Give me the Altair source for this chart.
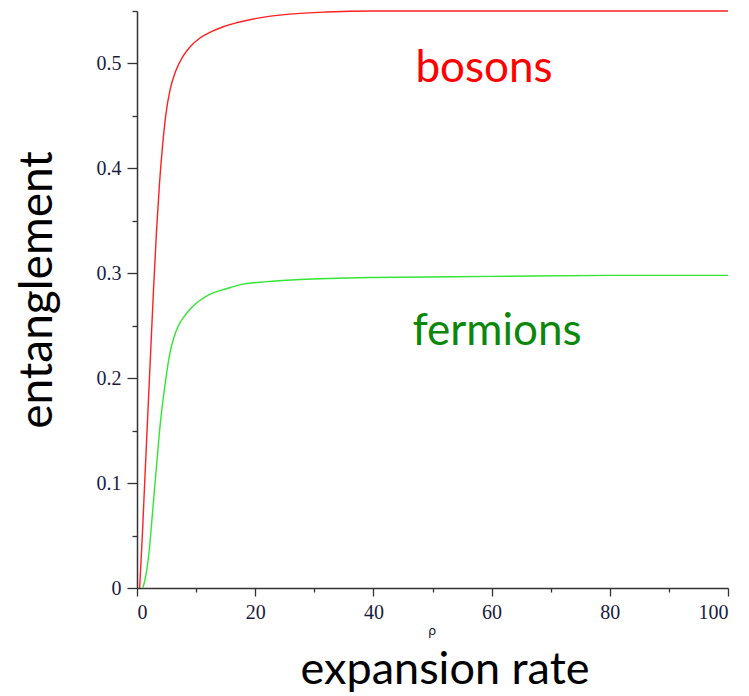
import altair as alt
import pandas as pd

# ---- data ----
rho_bosons = [0.45, 0.9, 1.3, 1.7, 2.1, 2.8, 3.3, 3.8, 4.3, 4.9, 5.6, 6.5, 7.8, 9.0, 10.6, 12.5, 14.6, 17.0, 20.2, 25.9, 32.0, 40.0, 60.0, 80.0, 100.0]
ent_bosons = [0.0, 0.05, 0.10, 0.15, 0.199, 0.285, 0.34, 0.385, 0.42, 0.452, 0.475, 0.492, 0.507, 0.516, 0.524, 0.530, 0.535, 0.539, 0.543, 0.547, 0.549, 0.55, 0.55, 0.55, 0.55]

rho_fermions = [1.0, 1.5, 2.0, 2.6, 3.3, 4.0, 4.8, 5.5, 6.2, 7.0, 8.0, 9.0, 10.6, 12.3, 15.0, 17.4, 22.0, 27.6, 40.0, 60.0, 80.0, 100.0]
ent_fermions = [0.0, 0.012, 0.032, 0.070, 0.116, 0.160, 0.196, 0.222, 0.238, 0.250, 0.259, 0.266, 0.274, 0.280, 0.285, 0.289, 0.292, 0.294, 0.296, 0.297, 0.298, 0.298]

series_names = ["bosons", "fermions"]
line_colors = ["#ff2020", "#33e633"]
label_colors = ["#ff0000", "#0b870b"]

x_major = [0, 20, 40, 60, 80, 100]
x_minor = [10, 30, 50, 70, 90]
y_major = [0, 0.1, 0.2, 0.3, 0.4, 0.5]
y_minor = [0.05, 0.15, 0.25, 0.35, 0.45, 0.55]

y_title = "entanglement"
x_title = "expansion rate"
x_symbol = "ρ"

df = pd.concat([
    pd.DataFrame({"rho": rho_bosons, "ent": ent_bosons, "series": series_names[0]}),
    pd.DataFrame({"rho": rho_fermions, "ent": ent_fermions, "series": series_names[1]}),
], ignore_index=True)

x_scale = alt.Scale(domain=[0, 100], nice=False, zero=False)
y_scale = alt.Scale(domain=[0, 0.55], nice=False, zero=False)

tick_font = "Liberation Serif"
tick_color = "#1a1a40"
axis_color = "#333333"

lines = alt.Chart(df).mark_line(strokeWidth=1.4, interpolate="monotone").encode(
    x=alt.X("rho:Q", scale=x_scale,
            axis=alt.Axis(orient="bottom", values=x_major, tickSize=8, title=None,
                          grid=False, labelPadding=6, format="d")),
    y=alt.Y("ent:Q", scale=y_scale,
            axis=alt.Axis(orient="left", values=y_major, tickSize=10, title=None,
                          grid=False, labelPadding=6, labelExpr="datum.value == 0 ? '0' : format(datum.value, '.1f')")),
    color=alt.Color("series:N", scale=alt.Scale(domain=series_names, range=line_colors), legend=None),
    detail="series:N",
)

minor = alt.Chart(df).mark_point(opacity=0).encode(
    x=alt.X("rho:Q", scale=x_scale,
            axis=alt.Axis(orient="bottom", values=x_minor, tickSize=4, labels=False,
                          domain=False, title=None, grid=False)),
    y=alt.Y("ent:Q", scale=y_scale,
            axis=alt.Axis(orient="left", values=y_minor, tickSize=5, labels=False,
                          domain=False, title=None, grid=False)),
)

big_font = "Lato"

ytitle = alt.Chart(pd.DataFrame({"t": [y_title]})).mark_text(
    angle=270, align="center", baseline="alphabetic", font=big_font, fontSize=46, color="#000000"
).encode(text="t:N", x=alt.value(-85), y=alt.value(279))

xtitle = alt.Chart(pd.DataFrame({"t": [x_title]})).mark_text(
    align="center", baseline="alphabetic", font=big_font, fontSize=45, color="#000000"
).encode(text="t:N", x=alt.value(308), y=alt.value(673))

xsym = alt.Chart(pd.DataFrame({"t": [x_symbol]})).mark_text(
    align="center", baseline="alphabetic", font="DejaVu Sans", fontSize=13, color=tick_color
).encode(text="t:N", x=alt.value(295), y=alt.value(624))

lab_b = alt.Chart(pd.DataFrame({"t": [series_names[0]]})).mark_text(
    align="center", baseline="alphabetic", font=big_font, fontSize=44, color=label_colors[0]
).encode(text="t:N", x=alt.value(347), y=alt.value(71))

lab_f = alt.Chart(pd.DataFrame({"t": [series_names[1]]})).mark_text(
    align="center", baseline="alphabetic", font=big_font, fontSize=44, color=label_colors[1]
).encode(text="t:N", x=alt.value(360), y=alt.value(334))

chart = alt.layer(lines, minor, ytitle, xtitle, xsym, lab_b, lab_f).resolve_axis(
    x="independent", y="independent"
).properties(
    width=591, height=577,
    padding={"left": 137, "top": 11, "right": 21, "bottom": 108},
    autosize=alt.AutoSizeParams(type="none"),
    background="white",
).configure_view(stroke=None).configure_axis(
    domainColor=axis_color, domainWidth=1.5, tickColor=axis_color, tickWidth=1.3,
    labelFont=tick_font, labelFontSize=20, labelColor=tick_color,
)

chart.save("out.html", embed_options={"renderer": "svg", "actions": False})
